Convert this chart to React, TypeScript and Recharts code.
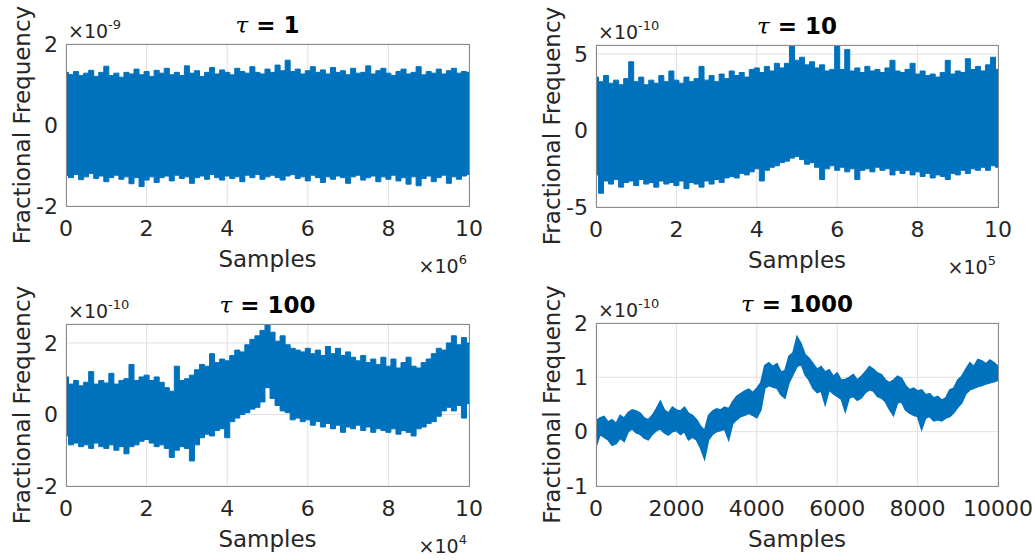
import { ComposedChart, Area, XAxis, YAxis, CartesianGrid } from "recharts";

// MATLAB default blue, axis + grid greys
const BLUE = "#0072BD";
const AXIS = "#8a8a8a";
const GRID = "#e0e0e0";
const TEXT = "#262626";
const FONT = "DejaVu Sans";

// x positions are evenly spaced along each record, values are the max/min
// envelope of the trace at that position (units of the axis exponent)
const tau1Upper = [
  1.30, 1.25, 1.32, 1.22, 1.28, 1.35, 1.20, 1.30, 1.45, 1.22, 1.28, 1.18, 1.30, 1.26, 1.38, 1.24,
  1.32, 1.20, 1.35, 1.28, 1.40, 1.24, 1.30, 1.22, 1.46, 1.28, 1.34, 1.20, 1.30, 1.42, 1.26, 1.36,
  1.30, 1.24, 1.40, 1.32, 1.28, 1.44, 1.30, 1.26, 1.38, 1.30, 1.48, 1.34, 1.60, 1.32, 1.38, 1.26,
  1.34, 1.44, 1.30, 1.36, 1.26, 1.42, 1.30, 1.34, 1.24, 1.40, 1.28, 1.30, 1.46, 1.26, 1.34, 1.40,
  1.28, 1.22, 1.32, 1.38, 1.26, 1.30, 1.44, 1.24, 1.32, 1.28, 1.38, 1.26, 1.34, 1.40, 1.28, 1.32,
  1.30,
];
const tau1Lower = [
  -1.25, -1.30, -1.22, -1.35, -1.28, -1.20, -1.32, -1.26, -1.40, -1.30, -1.24, -1.34, -1.28, -1.45,
  -1.30, -1.52, -1.36, -1.28, -1.42, -1.30, -1.26, -1.38, -1.24, -1.32, -1.28, -1.44, -1.30, -1.26,
  -1.34, -1.22, -1.30, -1.36, -1.26, -1.32, -1.28, -1.40, -1.24, -1.30, -1.22, -1.34, -1.28, -1.24,
  -1.30, -1.36, -1.26, -1.22, -1.32, -1.28, -1.38, -1.24, -1.30, -1.42, -1.28, -1.34, -1.26, -1.30,
  -1.44, -1.28, -1.24, -1.36, -1.30, -1.26, -1.40, -1.28, -1.34, -1.24, -1.38, -1.30, -1.46, -1.28,
  -1.50, -1.32, -1.26, -1.40, -1.30, -1.24, -1.44, -1.28, -1.34, -1.26, -1.22,
];

const tau10Upper = [
  3.5, 3.2, 3.6, 3.1, 3.3, 3.0, 3.4, 4.5, 3.2, 3.5, 3.0, 3.3, 3.1, 3.6, 3.2, 3.9,
  3.3, 3.1, 3.5, 3.2, 3.4, 4.2, 3.3, 3.6, 3.2, 3.7, 3.4, 3.9, 3.6, 3.8, 3.5, 4.0,
  4.1, 3.8, 4.2, 3.9, 4.4, 4.1, 4.4, 5.6, 4.6, 4.8, 4.3, 4.5, 4.1, 4.3, 3.9, 4.0,
  5.6, 4.0, 5.3, 3.9, 4.1, 3.8, 4.2, 3.9, 4.0, 3.8, 4.1, 4.6, 3.9, 3.8, 4.0, 4.4,
  3.7, 3.9, 3.6, 3.7, 3.5, 3.8, 4.6, 3.7, 3.9, 3.8, 4.7, 4.0, 4.2, 3.9, 4.3, 4.8,
  4.0,
];
const tau10Lower = [
  -2.9, -4.1, -3.3, -3.5, -3.2, -3.7, -3.4, -3.3, -3.6, -3.2, -3.5, -3.4, -3.7, -3.3, -3.5, -3.4,
  -3.6, -3.3, -3.8, -3.4, -3.5, -3.7, -3.3, -3.5, -3.2, -3.4, -3.1, -3.0, -3.1, -2.8, -2.9, -2.7,
  -2.5, -3.3, -2.6, -2.4, -2.3, -2.1, -2.0, -1.8, -1.7, -1.9, -2.2, -2.1, -2.4, -3.2, -2.5, -2.3,
  -2.6, -2.4, -2.7, -2.5, -3.2, -2.6, -2.5, -2.7, -2.4, -2.6, -2.5, -2.9, -2.6, -2.8, -2.6, -2.9,
  -2.7, -3.0, -2.8, -3.1, -2.9, -3.0, -3.2, -2.8, -2.9, -2.6, -2.8, -2.5, -2.6, -2.4, -2.6, -2.3,
  -2.4,
];

const tau100Upper = [
  1.05, 0.85, 0.95, 0.80, 0.90, 1.20, 0.85, 0.95, 0.88, 1.15, 0.85, 0.95, 1.00, 1.40, 0.95, 1.05,
  1.10, 0.95, 1.05, 0.90, 0.75, 0.65, 1.35, 0.95, 1.00, 1.10, 1.25, 1.40, 1.35, 1.70, 1.45, 1.55,
  1.50, 1.65, 1.80, 1.75, 1.95, 2.10, 2.20, 2.35, 2.50, 2.30, 2.05, 2.20, 1.95, 1.85, 1.80, 1.75,
  1.85, 1.70, 1.80, 1.65, 1.90, 1.70, 1.85, 1.65, 1.75, 1.60, 1.50, 1.65, 1.45, 1.55, 1.40, 1.60,
  1.35, 1.55, 1.30, 1.45, 1.60, 1.35, 1.30, 1.45, 1.55, 1.70, 1.85, 1.80, 2.00, 2.20, 1.95, 2.15,
  2.00,
];
const tau100Lower = [
  -0.60, -0.85, -0.80, -0.90, -0.85, -0.95, -0.80, -0.90, -0.95, -0.85, -1.00, -0.90, -1.10, -0.90,
  -0.85, -0.75, -0.70, -0.80, -0.90, -0.85, -0.95, -1.20, -1.00, -0.90, -0.95, -1.30, -0.85, -0.65,
  -0.55, -0.60, -0.45, -0.40, -0.65, -0.20, -0.10, 0.00, 0.05, 0.15, 0.20, 0.35, 0.75, 0.45,
  0.25, 0.10, 0.05, -0.15, -0.10, -0.20, -0.15, -0.30, -0.20, -0.35, -0.25, -0.40, -0.30, -0.50,
  -0.35, -0.40, -0.30, -0.45, -0.35, -0.50, -0.40, -0.45, -0.50, -0.40, -0.55, -0.45, -0.50, -0.60,
  -0.40, -0.35, -0.25, -0.20, -0.05, 0.10, 0.20, 0.10, 0.25, -0.10, 0.30,
];

const tau1000Upper = [
  0.20, 0.25, 0.28, 0.18, 0.22, 0.15, 0.30, 0.25, 0.35, 0.40, 0.38, 0.34, 0.25, 0.22, 0.30, 0.42,
  0.56, 0.40, 0.34, 0.45, 0.40, 0.38, 0.45, 0.34, 0.30, 0.22, 0.10, 0.02, 0.30, 0.38, 0.42, 0.40,
  0.45, 0.42, 0.55, 0.65, 0.70, 0.75, 0.78, 0.72, 0.80, 0.90, 1.22, 1.27, 1.20, 1.25, 1.10, 1.12,
  1.39, 1.45, 1.75, 1.62, 1.42, 1.35, 1.25, 1.15, 1.20, 1.10, 1.14, 1.02, 1.08, 0.95, 0.96, 1.00,
  1.05, 0.95, 1.02, 1.10, 1.20, 1.15, 1.08, 1.05, 0.95, 0.90, 0.95, 1.02, 0.98, 0.85, 0.77, 0.80,
  0.75, 0.77, 0.68, 0.70, 0.62, 0.65, 0.58, 0.62, 0.77, 0.80, 0.95, 1.02, 1.15, 1.27, 1.20, 1.33,
  1.30, 1.25, 1.32, 1.27, 1.20,
];
const tau1000Lower = [
  -0.28, -0.05, -0.10, -0.15, -0.25, -0.22, -0.12, -0.18, 0.00, 0.05, -0.02, -0.05, -0.12, -0.15,
  -0.05, 0.02, 0.05, -0.02, -0.06, 0.00, 0.02, -0.05, 0.00, -0.15, -0.10, -0.15, -0.30, -0.50,
  -0.15, -0.05, 0.00, 0.02, 0.05, -0.15, 0.15, 0.22, 0.28, 0.30, 0.34, 0.30, 0.26, 0.40, 0.80,
  0.85, 0.82, 0.80, 0.68, 0.62, 0.90, 1.05, 1.20, 1.25, 1.05, 0.95, 0.80, 0.72, 0.75, 0.50, 0.77,
  0.70, 0.65, 0.60, 0.37, 0.62, 0.65, 0.58, 0.62, 0.72, 0.77, 0.75, 0.65, 0.62, 0.55, 0.41, 0.30,
  0.53, 0.55, 0.40, 0.34, 0.30, 0.28, 0.04, 0.25, 0.28, 0.20, 0.22, 0.20, 0.25, 0.28, 0.35, 0.45,
  0.53, 0.70, 0.77, 0.80, 0.83, 0.85, 0.88, 0.90, 0.92, 0.95,
];

const tenTicks = [0, 2, 4, 6, 8, 10];
const sampleTicks = [0, 2000, 4000, 6000, 8000, 10000];

type Box = { x: number; y: number; w: number; h: number };

const ML = 70;
const MT = 50;
const MR = 50;
const MB = 80;

function Panel({
  box,
  upper,
  lower,
  xMax,
  xTicks,
  yDomain,
  yTicks,
  curve,
  width,
}: {
  box: Box;
  upper: number[];
  lower: number[];
  xMax: number;
  xTicks: number[];
  yDomain: [number, number];
  yTicks: number[];
  curve: "step" | "linear";
  width: number;
}) {
  const rows = upper.map((hi, i) => ({
    x: (i * xMax) / (upper.length - 1),
    band: [lower[i], hi],
  }));
  const tick = { fontSize: 22, fill: TEXT, fontFamily: FONT };

  return (
    <div style={{ position: "absolute", left: box.x - ML, top: box.y - MT }}>
      <ComposedChart
        width={box.w + ML + MR}
        height={box.h + MT + MB}
        data={rows}
        margin={{ top: MT, right: MR, bottom: 0, left: 0 }}
        style={{ overflow: "visible" }}
      >
        <CartesianGrid stroke={GRID} />
        <XAxis
          dataKey="x"
          type="number"
          domain={[0, xMax]}
          ticks={xTicks}
          interval={0}
          height={MB}
          tickSize={0}
          tickMargin={14}
          tickLine={false}
          axisLine={false}
          tick={tick}
          allowDataOverflow
        />
        <YAxis
          type="number"
          domain={yDomain}
          ticks={yTicks}
          interval={0}
          width={ML}
          tickSize={0}
          tickMargin={8}
          tickLine={false}
          axisLine={false}
          tick={tick}
          allowDataOverflow
        />
        <Area
          dataKey="band"
          type={curve}
          stroke={BLUE}
          strokeWidth={width}
          fill={BLUE}
          fillOpacity={1}
          dot={false}
          activeDot={false}
          isAnimationActive={false}
        />
      </ComposedChart>
    </div>
  );
}

// axes frame, title, exponent markers and axis titles around one subplot
function Labels({
  box,
  tau,
  yExp,
  xExp,
}: {
  box: Box;
  tau: string;
  yExp: string;
  xExp?: string;
}) {
  const cx = box.x + box.w / 2;
  const cy = box.y + box.h / 2;
  const bottom = box.y + box.h;
  return (
    <g fontFamily={FONT} fill={TEXT}>
      <rect
        x={box.x + 0.5}
        y={box.y + 0.5}
        width={box.w}
        height={box.h}
        fill="none"
        stroke={AXIS}
        strokeWidth={1}
      />
      <text x={cx} y={box.y - 11} textAnchor="middle" fontSize={23} fill="#000">
        <tspan fontFamily="DejaVu Serif" fontStyle="italic">
          τ
        </tspan>
        <tspan fontWeight="bold"> = {tau}</tspan>
      </text>
      <text x={box.x + 2} y={box.y - 6} fontSize={19}>
        ×10
        <tspan fontSize={13} dy={-9}>
          {yExp}
        </tspan>
      </text>
      <text
        transform={`translate(${box.x - 44},${cy}) rotate(-90)`}
        textAnchor="middle"
        dominantBaseline="central"
        fontSize={23}
      >
        Fractional Frequency
      </text>
      <text x={cx} y={bottom + 61} textAnchor="middle" fontSize={23}>
        Samples
      </text>
      {xExp && (
        <text x={box.x + box.w - 2} y={bottom + 67} textAnchor="end" fontSize={19}>
          ×10
          <tspan fontSize={13} dy={-9}>
            {xExp}
          </tspan>
        </text>
      )}
    </g>
  );
}

const box1: Box = { x: 66, y: 44, w: 403, h: 162 };
const box2: Box = { x: 596, y: 45, w: 402, h: 162 };
const box3: Box = { x: 66, y: 324, w: 403, h: 162 };
const box4: Box = { x: 596, y: 323, w: 402, h: 163 };

export default function App() {
  return (
    <div
      style={{
        position: "absolute",
        left: 0,
        top: 0,
        width: 1035,
        height: 560,
        background: "#fff",
        overflow: "hidden",
      }}
    >
      <Panel box={box1} upper={tau1Upper} lower={tau1Lower} xMax={10} xTicks={tenTicks} yDomain={[-2, 2]} yTicks={[-2, 0, 2]} curve="step" width={1} />
      <Panel box={box2} upper={tau10Upper} lower={tau10Lower} xMax={10} xTicks={tenTicks} yDomain={[-5, 5.6]} yTicks={[-5, 0, 5]} curve="step" width={1} />
      <Panel box={box3} upper={tau100Upper} lower={tau100Lower} xMax={10} xTicks={tenTicks} yDomain={[-2, 2.53]} yTicks={[-2, 0, 2]} curve="step" width={1} />
      <Panel box={box4} upper={tau1000Upper} lower={tau1000Lower} xMax={10000} xTicks={sampleTicks} yDomain={[-1, 2]} yTicks={[-1, 0, 1, 2]} curve="linear" width={1.6} />
      <svg
        width={1035}
        height={560}
        style={{ position: "absolute", left: 0, top: 0, pointerEvents: "none" }}
      >
        <Labels box={box1} tau="1" yExp="-9" xExp="6" />
        <Labels box={box2} tau="10" yExp="-10" xExp="5" />
        <Labels box={box3} tau="100" yExp="-10" xExp="4" />
        <Labels box={box4} tau="1000" yExp="-10" />
      </svg>
    </div>
  );
}
